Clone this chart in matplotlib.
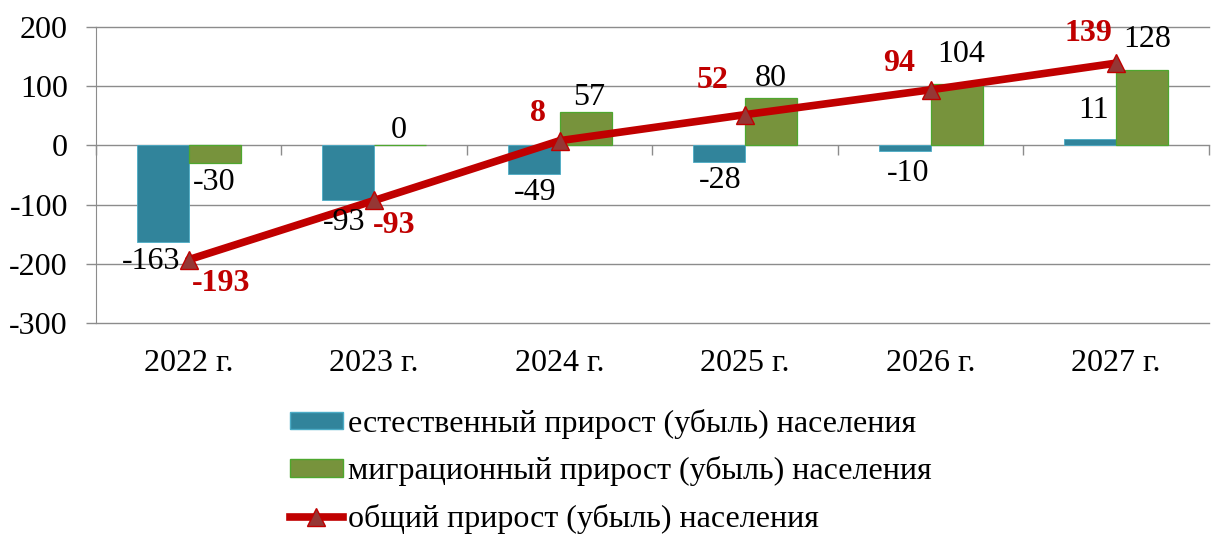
import matplotlib
matplotlib.use("Agg")
import matplotlib.pyplot as plt
import numpy as np
from matplotlib.lines import Line2D
from matplotlib.patches import Patch
from matplotlib.markers import TICKDOWN

years = ["2022 г.", "2023 г.", "2024 г.", "2025 г.", "2026 г.", "2027 г."]
natural = [-163, -93, -49, -28, -10, 11]
migration = [-30, 0, 57, 80, 104, 128]
total = [-193, -93, 8, 52, 94, 139]
legend_labels = ["естественный прирост (убыль) населения",
                 "миграционный прирост (убыль) населения",
                 "общий прирост (убыль) населения"]
yticks = [-300, -200, -100, 0, 100, 200]

# label offsets (pixels, relative to bar end / marker)
nat_off = [(-12, -20), (-4, -22), (1, -18), (1, -19), (3, -22), (3, 28)]
mig_off = [(0, -19), (-1, 15), (3, 14), (0, 20), (4, 29), (5, 30)]
tot_off = [(32, -24), (20, -25), (-22, 27), (-33, 34), (-32, 26), (-28, 30)]

plt.rcParams['font.family'] = ['Liberation Serif', 'DejaVu Serif']

TEAL = "#31849B"
GREEN = "#77933C"
RED = "#C00000"
MARK = "#953735"
GRID = "#8c8c8c"
FS = 23

fig = plt.figure(figsize=(12.13, 5.38), dpi=100)
ax = fig.add_axes([0.0791, 0.3996, 0.9176, 0.5502])

x = np.arange(len(years))
w = 0.28
ax.bar(x - w / 2, natural, w, color=TEAL, edgecolor="#4bacc6", linewidth=0.6, zorder=2)
ax.bar(x + w / 2, migration, w, color=GREEN, edgecolor="#4ea72e", linewidth=0.9, zorder=2)
ax.plot(x, total, color=RED, linewidth=5.5, zorder=3, solid_capstyle="round")
ax.plot(x, total, linestyle="none", marker="^", markersize=12.5, markerfacecolor=MARK,
        markeredgecolor=RED, markeredgewidth=1.0, zorder=4)

ymin, ymax = -300, 200
ax.set_xlim(-0.5, len(years) - 0.5)
ax.set_ylim(ymin, ymax)
ax.set_yticks(yticks)
ax.set_yticklabels([str(v) for v in yticks], fontsize=FS)
ax.tick_params(axis="y", length=7.2, width=1, color=GRID, pad=13)
ax.set_xticks(x)
ax.set_xticklabels(years, fontsize=FS)
ax.tick_params(axis="x", length=0, pad=19)
for s in ["top", "right", "bottom"]:
    ax.spines[s].set_visible(False)
ax.spines["left"].set_color(GRID)
for v in yticks:
    ax.axhline(v, color=GRID, linewidth=1, zorder=1, clip_on=False)

# category axis crossing at zero: boundary tick marks pointing down
bounds = np.arange(len(years) + 1) - 0.5
ax.plot(bounds, np.zeros_like(bounds), linestyle="none", marker=TICKDOWN,
        markersize=7.2, markeredgewidth=1, color=GRID, zorder=1, clip_on=False)

for i, v in enumerate(natural):
    ax.annotate(str(v), (x[i] - w / 2, v), xytext=nat_off[i], textcoords="offset pixels",
                ha="center", va="center", fontsize=FS, zorder=5)
for i, v in enumerate(migration):
    ax.annotate(str(v), (x[i] + w / 2, v), xytext=mig_off[i], textcoords="offset pixels",
                ha="center", va="center", fontsize=FS, zorder=5)
for i, v in enumerate(total):
    ax.annotate(str(v), (x[i], v), xytext=tot_off[i], textcoords="offset pixels",
                ha="center", va="center", fontsize=FS, fontweight="bold", color=RED, zorder=5)

handles = [Patch(facecolor=TEAL, edgecolor="#4bacc6"),
           Patch(facecolor=GREEN, edgecolor="#4ea72e"),
           Line2D([0], [0], color=RED, linewidth=5.5, marker="^", markersize=12.5,
                  markerfacecolor=MARK, markeredgecolor=RED)]
fig.legend(handles, legend_labels, loc="upper left", bbox_to_anchor=(0.239, 0.240),
           frameon=False, fontsize=FS, handlelength=1.66, handleheight=0.47,
           handletextpad=0.15, labelspacing=0.55, borderpad=0, borderaxespad=0)

fig.savefig("out.png", dpi=100)
